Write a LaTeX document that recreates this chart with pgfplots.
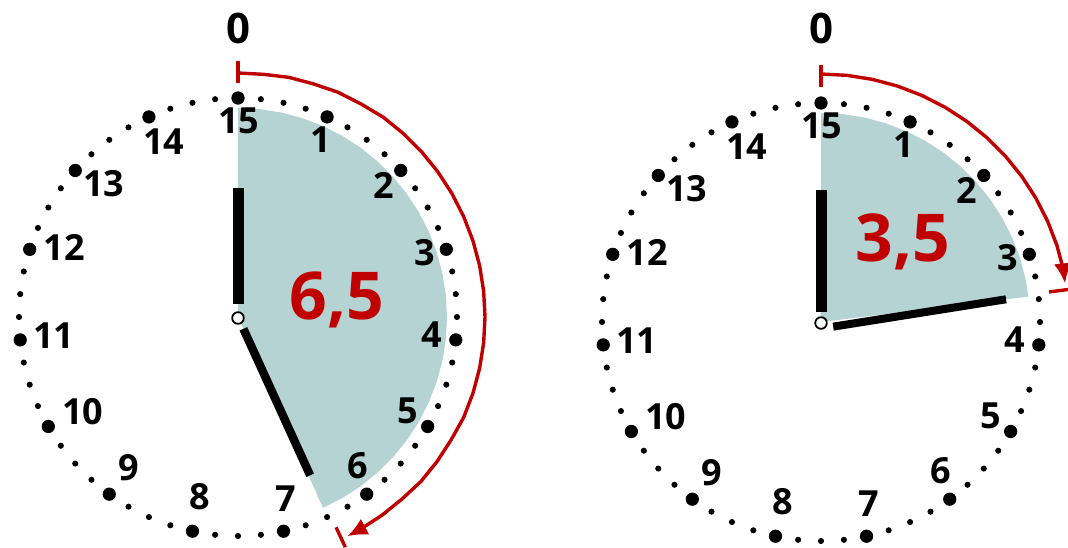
\documentclass[border=0pt]{standalone}
\usepackage{pgfplots}
\usepackage{pgfplotstable}
\pgfplotsset{compat=1.18}
\usepackage{fontspec}
\setmainfont{Open Sans}
\usetikzlibrary{arrows.meta}

\definecolor{sector}{HTML}{B6D3D4}
\definecolor{mred}{HTML}{C00000}

% dial marks, polar (angle, radius); 15 big ones and 45 small ones
\pgfplotstableread{
a r
90 219
66 219
42 219
18 219
-6 219
-30 219
-54 219
-78 219
-102 219
-126 219
-150 219
-174 219
-198 219
-222 219
-246 219
}\bigdots
\pgfplotstableread{
a r
84 219
78 219
72 219
60 219
54 219
48 219
36 219
30 219
24 219
12 219
6 219
0 219
-12 219
-18 219
-24 219
-36 219
-42 219
-48 219
-60 219
-66 219
-72 219
-84 219
-90 219
-96 219
-108 219
-114 219
-120 219
-132 219
-138 219
-144 219
-156 219
-162 219
-168 219
-180 219
-186 219
-192 219
-204 219
-210 219
-216 219
-228 219
-234 219
-240 219
-252 219
-258 219
-264 219
}\smalldots
\pgfplotstableread{
a r t
89.8 196 15
65 196 1
42 196 2
19 197 3
-5.3 195 4
-28.8 194 5
-51.3 191 6
-75.4 188 7
-102.1 184 8
-125.8 186 9
-148.5 182 10
-174.2 185 11
158.2 187 12
135.2 189 13
113 190 14
}\labels

\pgfplotsset{
  clock/.style={hide axis, scale only axis, width=534pt, height=273.5pt,
    clip=false, anchor=south west, at={(0,0)}},
  bigdot/.style={only marks, mark=*, mark size=3.1pt, black, data cs=polar},
  smalldot/.style={only marks, mark=*, mark size=1.3pt, black, data cs=polar},
  dialnums/.style={data cs=polar, only marks, mark=none,
    nodes near coords, point meta=explicit symbolic,
    nodes near coords align=center,
    every node near coord/.append style={anchor=center, black,
      font=\fontsize{18}{20}\selectfont\bfseries}},
  hand/.style={black, data cs=polar, line cap=butt},
  redline/.style={mred, line width=1.7pt, data cs=polar},
  pivot/.style={only marks, mark=*, mark size=2.9pt,
    mark options={fill=white, draw=black, line width=0.9pt}},
}

\begin{document}
\begin{tikzpicture}
% left clock: 6,5
\begin{axis}[clock, xmin=-238, xmax=830, ymin=-230, ymax=317]
  \addplot[fill=sector, draw=none, data cs=polar] coordinates {
    (0,0) (90,209) (84,209) (78,209) (72,209) (66,209) (60,209) (54,209)
    (48,209) (42,209) (36,209) (30,209) (24,209) (18,209) (12,209) (6,209)
    (0,209) (-6,209) (-12,209) (-18,209) (-24,209) (-30,209) (-36,209)
    (-42,209) (-48,209) (-54,209) (-60,209) (-66,209)} -- cycle;
  \addplot[bigdot] table[x=a, y=r] {\bigdots};
  \addplot[smalldot] table[x=a, y=r] {\smalldots};
  \addplot[dialnums] table[x=a, y=r, meta=t] {\labels};
  \addplot[hand, line width=5.5pt] coordinates {(90,13) (90,129)};
  \addplot[hand, line width=4.2pt] coordinates {(-65.5,13) (-65.5,174)};
  \addplot[pivot] coordinates {(0,-1)};
  \addplot[redline, -{Latex[length=10pt, width=9pt]}] coordinates {
    (90,244) (84,244) (78,245) (72,245) (66,246) (60,246) (54,247) (48,247)
    (42,247) (36,247) (30,247) (24,247) (18,247) (12,247) (6,247) (0,247)
    (-6,247) (-12,247) (-18,247) (-24,247) (-30,246) (-36,246) (-42,246)
    (-48,245) (-54,245) (-60,245) (-63.5,245)};
  \addplot[redline] coordinates {(90,234) (90,256)};
  \addplot[redline] coordinates {(-65,232) (-65,254)};
  \node[mred, font=\fontsize{33}{36}\selectfont\bfseries] at (axis cs:99,17) {6,5};
  \node[font=\fontsize{21}{24}\selectfont\bfseries] at (axis cs:0,289) {0};
\end{axis}
% right clock: 3,5
\begin{axis}[clock, xmin=-821, xmax=247, ymin=-225, ymax=322]
  \addplot[fill=sector, draw=none, data cs=polar] coordinates {
    (0,0) (90,209) (84,209) (78,209) (72,209) (66,209) (60,209) (54,209)
    (48,209) (42,209) (36,209) (30,209) (24,209) (18,209) (12,209) (7,209)} -- cycle;
  \addplot[bigdot] table[x=a, y=r] {\bigdots};
  \addplot[smalldot] table[x=a, y=r] {\smalldots};
  \addplot[dialnums] table[x=a, y=r, meta=t] {\labels};
  \addplot[hand, line width=5.5pt] coordinates {(90,10) (90,132)};
  \addplot[hand, line width=4pt] coordinates {(-21,13) (7,186.4)};
  \addplot[pivot] coordinates {(0,-1)};
  \addplot[redline, -{Latex[length=10pt, width=9pt]}] coordinates {
    (90,248) (84,248) (78,248) (72,248) (66,248) (60,248) (54,248) (48,248)
    (42,248) (36,248) (30,248) (24,248) (18,248) (12,248) (9,247)};
  \addplot[redline] coordinates {(90,235) (90,257)};
  \addplot[redline] coordinates {(7.5,230) (7.5,252)};
  \node[mred, font=\fontsize{33}{36}\selectfont\bfseries] at (axis cs:82,80) {3,5};
  \node[font=\fontsize{21}{24}\selectfont\bfseries] at (axis cs:0,294) {0};
\end{axis}
\pgfresetboundingbox
\path[use as bounding box] (0,0) rectangle (534pt,273.5pt);
\end{tikzpicture}
\end{document}
